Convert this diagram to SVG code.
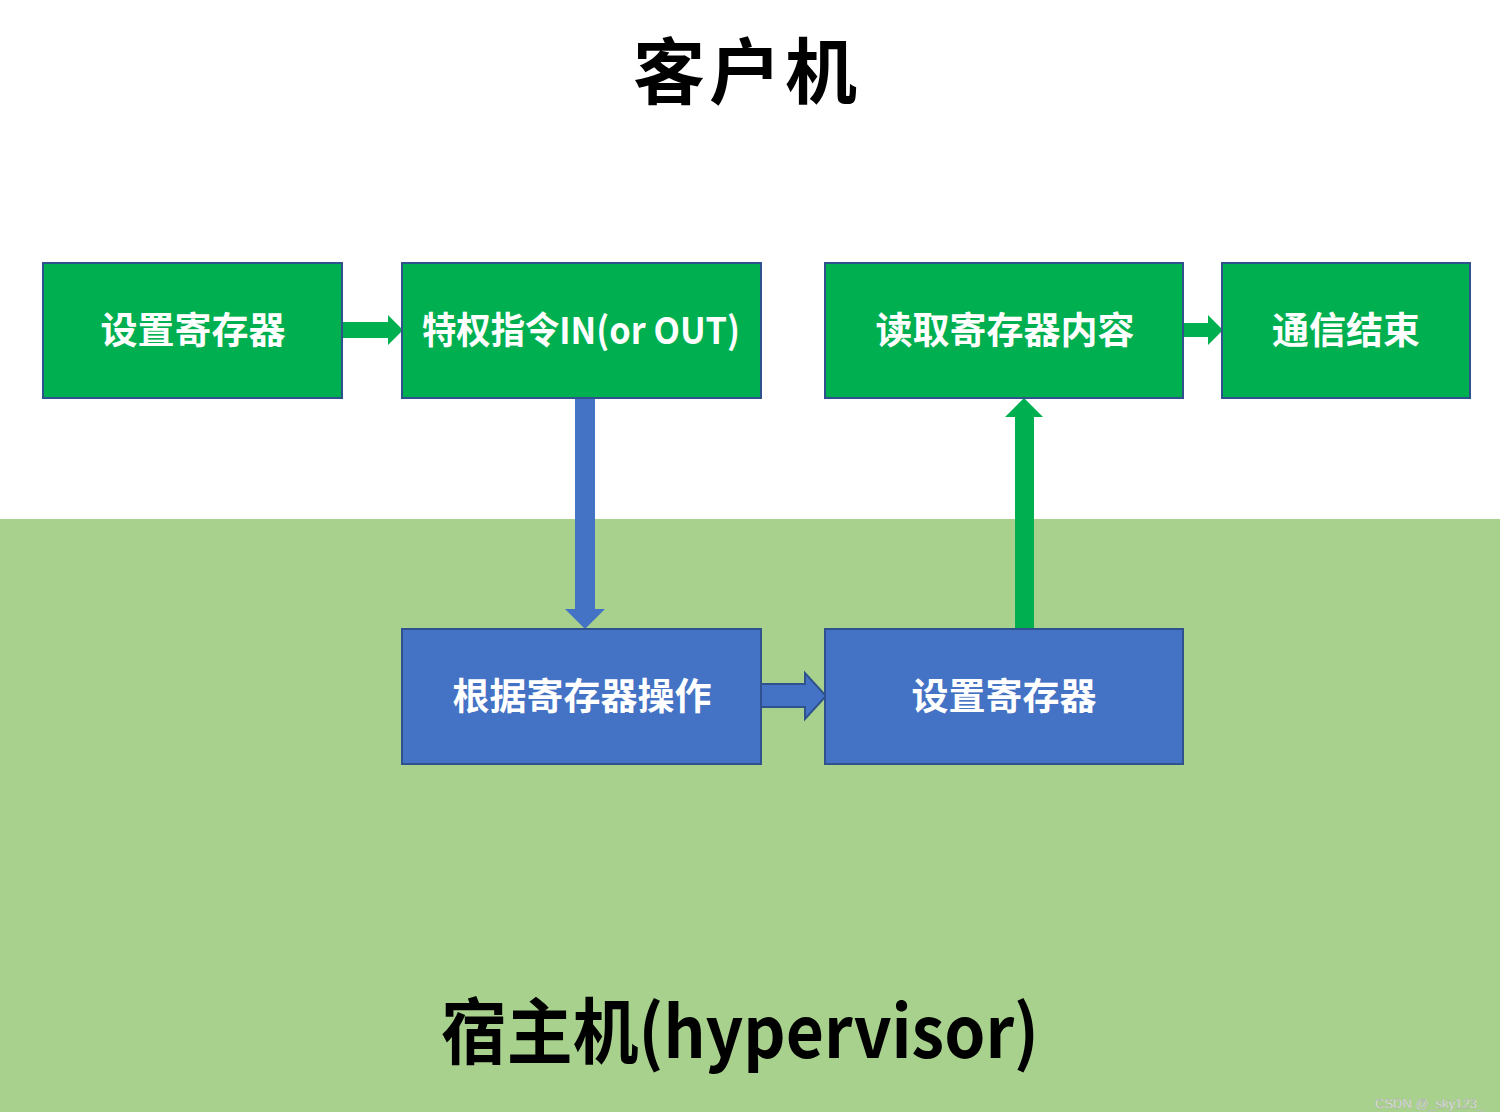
<svg xmlns="http://www.w3.org/2000/svg" width="1500" height="1120" viewBox="0 0 1500 1120">
<style>
.box rect{stroke:#2F528F;stroke-width:2}
.g rect{fill:#00B050}
.b rect{fill:#4472C4}
.lbl{font-family:"Noto Sans CJK SC","Noto Sans",sans-serif;font-weight:bold;font-size:37px;fill:#fff;text-anchor:middle;dominant-baseline:central}
.title{font-family:"Noto Sans CJK SC","Noto Sans",sans-serif;font-weight:bold;fill:#000;text-anchor:middle}
.wm{font-family:"Liberation Sans",Arial,sans-serif;font-size:13px;fill:#f2f2f2;stroke:#999;stroke-width:0.3}
</style>
<rect x="0" y="0" width="1500" height="1120" fill="#fff"/>
<rect x="0" y="519" width="1500" height="593" fill="#A9D18E"/>
<text class="title" x="747" y="98" font-size="72" letter-spacing="4">客户机</text>
<text class="title" x="740" y="1058" font-size="72" textLength="598" lengthAdjust="spacingAndGlyphs">宿主机(hypervisor)</text>

<g id="connectors">
<polygon fill="#00B050" points="342,322 388,322 388,315 403,330 388,345 388,338 342,338"/>
<polygon fill="#4472C4" points="575,398 595,398 595,609 605,609 585,629 565,609 575,609"/>
<polygon fill="#4472C4" stroke="#2F528F" stroke-width="2" points="761,684 805,684 805,673 826,696 805,719 805,707 761,707"/>
<polygon fill="#00B050" points="1015,629 1034,629 1034,417 1043,417 1024,398 1005,417 1015,417"/>
<polygon fill="#00B050" points="1183,323 1208,323 1208,315 1223,330 1208,345 1208,337 1183,337"/>
</g>

<g id="n1" class="box g"><rect x="43" y="263" width="299" height="135"/><text class="lbl" x="193" y="328">设置寄存器</text></g>
<g id="n2" class="box g"><rect x="402" y="263" width="359" height="135"/><text class="lbl" x="581" y="328" textLength="318" lengthAdjust="spacingAndGlyphs">特权指令IN(or OUT)</text></g>
<g id="n3" class="box g"><rect x="825" y="263" width="358" height="135"/><text class="lbl" x="1005" y="328">读取寄存器内容</text></g>
<g id="n4" class="box g"><rect x="1222" y="263" width="248" height="135"/><text class="lbl" x="1346" y="328">通信结束</text></g>
<g id="n5" class="box b"><rect x="402" y="629" width="359" height="135"/><text class="lbl" x="582" y="694">根据寄存器操作</text></g>
<g id="n6" class="box b"><rect x="825" y="629" width="358" height="135"/><text class="lbl" x="1004" y="694">设置寄存器</text></g>

<text class="wm" x="1375" y="1108">CSDN @_sky123_</text>
</svg>
